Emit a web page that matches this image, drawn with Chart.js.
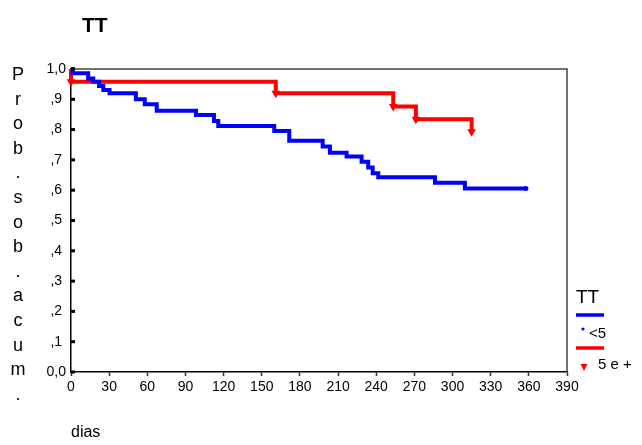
<!DOCTYPE html>
<html>
<head>
<meta charset="utf-8">
<script src="https://cdn.jsdelivr.net/npm/chart.js@4.4.1/dist/chart.umd.min.js"></script>
<style>
html, body { margin: 0; padding: 0; background: #fff; }
#wrap { width: 642px; height: 445px; position: relative; }
</style>
</head>
<body>
<div id="wrap"><canvas id="km"></canvas></div>
<script>
var chartTitle = 'TT';
var legendTitle = 'TT';
var groupLabels = ['<5', '5 e +'];

// group <5 : time of each step (dias) and survival after it
var lt5Days = [0, 1.3, 13.5, 17.5, 22, 25.4, 30.3, 51, 58, 67.4, 98.3, 112.4, 115.8, 159.8, 171.6, 197.9, 203.6, 216.7, 228.5, 233.7, 237.2, 241.6, 286.2, 309.7, 357.7];
var lt5Surv = [1.0, 0.986, 0.969, 0.958, 0.944, 0.931, 0.920, 0.900, 0.884, 0.862, 0.848, 0.828, 0.812, 0.795, 0.763, 0.744, 0.724, 0.711, 0.694, 0.675, 0.656, 0.643, 0.625, 0.606, 0.606];

// group 5 e +
var ge5Days = [0, 0, 161, 253.4, 271.2, 315];
var ge5Surv = [1.0, 0.958, 0.920, 0.876, 0.834, 0.793];

var dayTicks = ['0', '30', '60', '90', '120', '150', '180', '210', '240', '270', '300', '330', '360', '390'];
var survTicks = ['0,0', ',1', ',2', ',3', ',4', ',5', ',6', ',7', ',8', ',9', '1,0'];
var yTitleChars = ['P', 'r', 'o', 'b', '.', 's', 'o', 'b', '.', 'a', 'c', 'u', 'm', '.'];
var xTitle = 'dias';

var FONT = 'Arial, "Liberation Sans", sans-serif';

function toPoints(xs, ys) {
    var pts = [];
    for (var i = 0; i < xs.length; i++) pts.push({x: xs[i], y: ys[i]});
    return pts;
}

var lt5Radius = lt5Days.map(function (d, i) { return i === lt5Days.length - 1 ? 2.5 : 0; });
var ge5Radius = ge5Days.map(function (d, i) { return i === 0 ? 0 : 5; });

var extras = {
    id: 'extras',
    afterDraw: function (chart) {
        var ctx = chart.ctx;
        var a = chart.chartArea;
        var ys = chart.scales.y;
        ctx.save();

        // top and right frame
        ctx.strokeStyle = '#444';
        ctx.lineWidth = 1.5;
        ctx.beginPath();
        ctx.moveTo(a.left, a.top);
        ctx.lineTo(a.right, a.top);
        ctx.lineTo(a.right, a.bottom);
        ctx.stroke();

        // y tick marks, drawn inside the axis like the original
        ctx.fillStyle = '#000';
        ys.ticks.forEach(function (t) {
            var py = ys.getPixelForValue(t.value);
            ctx.fillRect(a.left, py - 1.5, 4, 3);
        });

        // title
        ctx.font = 'bold 21px ' + FONT;
        ctx.textAlign = 'left';
        ctx.textBaseline = 'middle';
        ctx.fillText(chartTitle, 82, 26);

        // stacked y title
        ctx.font = '18px ' + FONT;
        ctx.textAlign = 'center';
        for (var i = 0; i < yTitleChars.length; i++) {
            ctx.fillText(yTitleChars[i], 18, 75 + i * 24.6);
        }

        // legend
        var ds = chart.data.datasets;
        ctx.textAlign = 'left';
        ctx.font = '19px ' + FONT;
        ctx.fillText(legendTitle, 576, 298);
        ctx.lineWidth = 3.5;
        ctx.strokeStyle = ds[0].borderColor;
        ctx.beginPath(); ctx.moveTo(576, 315); ctx.lineTo(604, 315); ctx.stroke();
        ctx.fillStyle = ds[0].borderColor;
        ctx.beginPath(); ctx.arc(583, 329, 1.6, 0, Math.PI * 2); ctx.fill();
        ctx.fillStyle = '#000';
        ctx.font = '15px ' + FONT;
        ctx.fillText(groupLabels[0], 589, 334);
        ctx.strokeStyle = ds[1].borderColor;
        ctx.beginPath(); ctx.moveTo(576, 348); ctx.lineTo(604, 348); ctx.stroke();
        ctx.fillStyle = ds[1].borderColor;
        ctx.beginPath(); ctx.moveTo(580.5, 364); ctx.lineTo(587.5, 364); ctx.lineTo(584, 371); ctx.closePath(); ctx.fill();
        ctx.fillStyle = '#000';
        ctx.fillText(groupLabels[1], 598, 365);
        ctx.restore();
    }
};

var ctx = document.getElementById('km').getContext('2d');
var kmChart = new Chart(ctx, {
    type: 'line',
    data: {
        datasets: [{
            label: groupLabels[0],
            data: toPoints(lt5Days, lt5Surv),
            borderColor: '#0000ff',
            backgroundColor: '#0000ff',
            borderWidth: 4,
            stepped: 'before',
            pointRadius: lt5Radius,
            pointStyle: 'circle',
            pointBorderWidth: 0,
            fill: false,
            clip: 6
        }, {
            label: groupLabels[1],
            data: toPoints(ge5Days, ge5Surv),
            borderColor: '#ff0000',
            backgroundColor: '#ff0000',
            borderWidth: 4,
            stepped: 'before',
            pointRadius: ge5Radius,
            pointStyle: 'triangle',
            pointRotation: 180,
            pointBorderWidth: 0,
            fill: false,
            clip: 8
        }]
    },
    options: {
        responsive: true,
        maintainAspectRatio: false,
        animation: false,
        events: [],
        layout: { padding: { top: 69, right: 75, left: 0, bottom: 0 } },
        plugins: {
            legend: { display: false },
            tooltip: { enabled: false }
        },
        scales: {
            x: {
                type: 'linear',
                min: 0,
                max: 390,
                afterFit: function (scale) { scale.height = 73; },
                afterBuildTicks: function (scale) {
                    scale.ticks = dayTicks.map(function (t) { return {value: parseFloat(t)}; });
                },
                ticks: {
                    color: '#000',
                    font: { family: FONT, size: 14 },
                    padding: 3,
                    maxRotation: 0,
                    autoSkip: false,
                    callback: function (v, i) { return dayTicks[i]; }
                },
                grid: { drawOnChartArea: false, tickLength: 4, tickColor: '#333', tickWidth: 1.5 },
                border: { color: '#000', width: 1.5 },
                title: {
                    display: true,
                    text: xTitle,
                    align: 'start',
                    color: '#000',
                    font: { family: FONT, size: 16 },
                    padding: { top: 0, bottom: 3 }
                }
            },
            y: {
                min: 0,
                max: 1,
                afterFit: function (scale) { scale.width = 71; },
                afterBuildTicks: function (scale) {
                    scale.ticks = survTicks.map(function (t, i) { return {value: i / 10}; });
                },
                ticks: {
                    color: '#000',
                    font: { family: FONT, size: 14 },
                    padding: 5,
                    crossAlign: 'center',
                    autoSkip: false,
                    callback: function (v, i) { return survTicks[i]; }
                },
                grid: { drawOnChartArea: false, drawTicks: false },
                border: { color: '#000', width: 1.5 }
            }
        }
    },
    plugins: [extras]
});
</script>
</body>
</html>
